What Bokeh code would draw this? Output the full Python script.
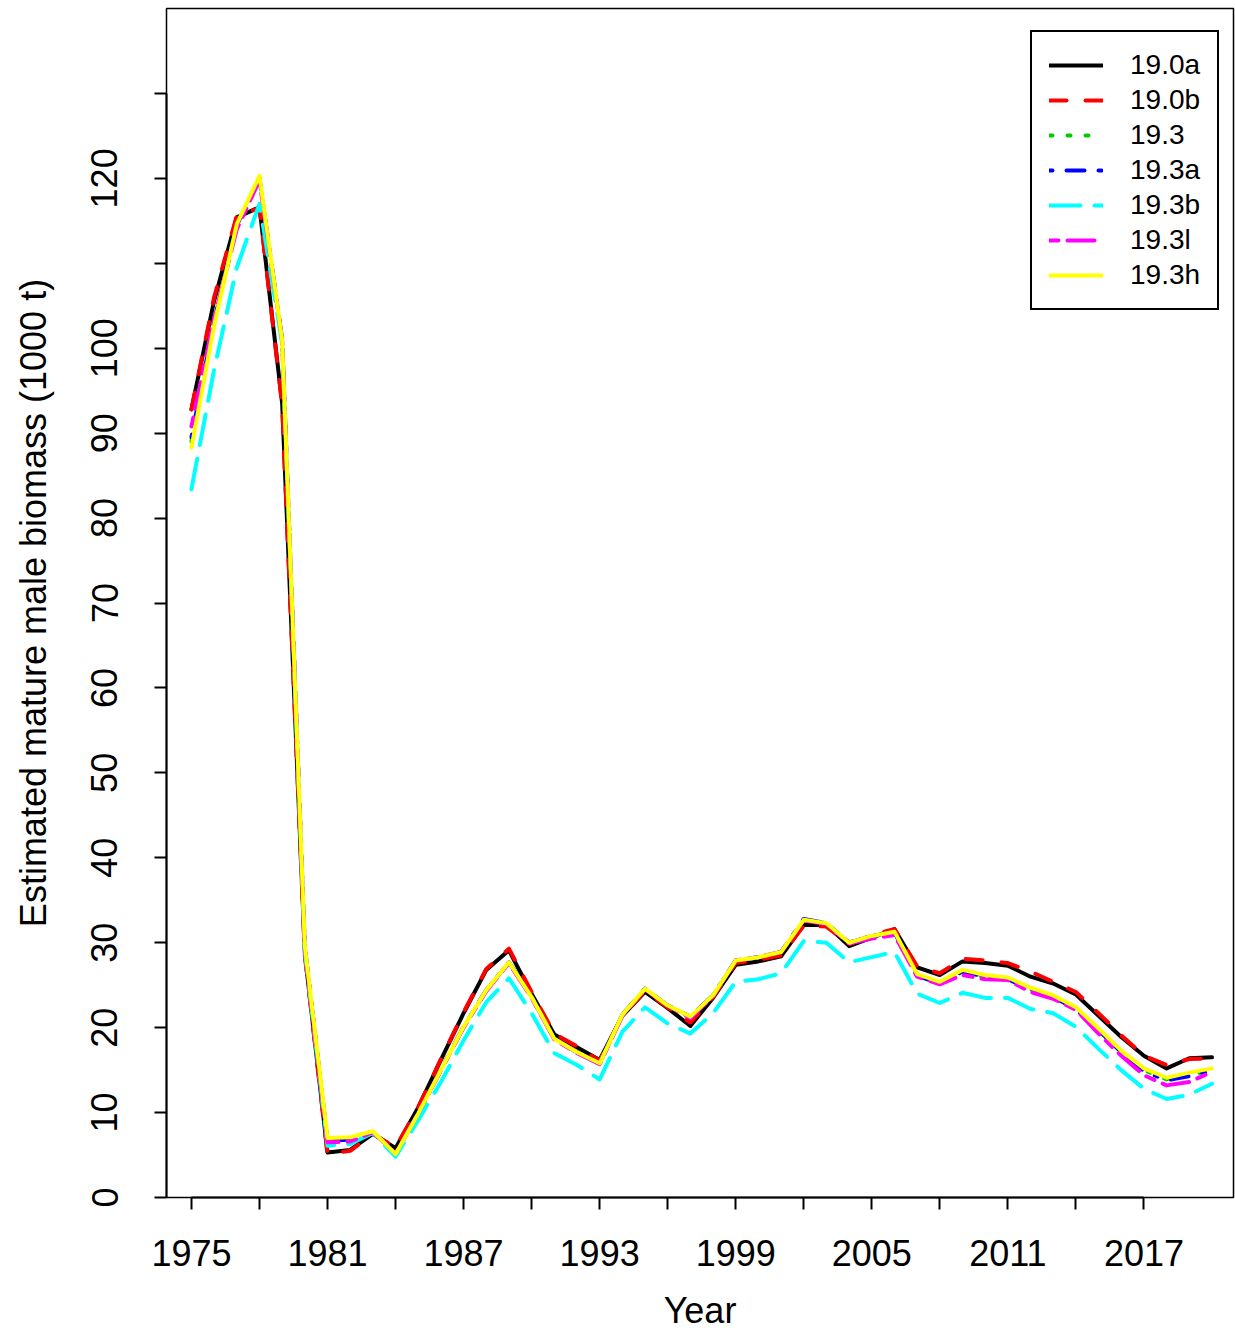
from bokeh.plotting import figure
from bokeh.models import Range1d, FixedTicker, Legend, LegendItem
from bokeh.embed import file_html
from bokeh.resources import INLINE

years = list(range(1975, 2021))

s_190a = [92.8, 105.6, 115.4, 116.6, 93.5, 28.7, 5.3, 5.6, 7.5, 5.8,
          10.6, 16.2, 21.7, 26.8, 29.1, 24.0, 19.2, 17.7, 16.2, 21.4,
          24.2, 22.3, 20.2, 23.5, 27.4, 27.8, 28.4, 32.1, 32.1, 29.6,
          30.6, 31.6, 27.1, 26.2, 27.8, 27.6, 27.3, 26.0, 25.2, 23.9,
          21.4, 18.9, 16.7, 15.2, 16.4, 16.5]
s_190b = [92.8, 106.0, 115.6, 116.5, 93.3, 28.5, 5.1, 5.5, 7.5, 5.9,
          10.6, 16.3, 21.8, 26.9, 29.3, 24.2, 19.3, 17.8, 16.1, 21.4,
          24.3, 22.4, 20.6, 23.6, 27.6, 28.0, 28.5, 32.0, 31.9, 29.8,
          30.9, 31.6, 27.2, 26.4, 28.1, 27.9, 27.6, 26.6, 25.4, 24.2,
          21.7, 19.1, 16.7, 15.6, 16.3, 16.4]
s_193 = [89.0, 103.0, 114.5, 120.0, 100.9, 29.5, 6.8, 6.9, 7.8, 5.1,
         9.9, 15.0, 20.1, 24.4, 27.7, 23.6, 18.7, 17.1, 15.8, 21.5,
         24.6, 22.6, 21.3, 23.8, 27.9, 28.3, 28.9, 32.7, 32.3, 30.0,
         30.8, 31.2, 26.2, 25.3, 26.6, 26.0, 25.8, 24.5, 23.6, 22.2,
         19.7, 17.1, 15.0, 13.9, 14.4, 15.0]
s_193a = [89.5, 103.2, 114.5, 120.0, 101.0, 29.5, 6.7, 6.8, 7.8, 5.1,
          9.9, 15.0, 20.1, 24.4, 27.7, 23.6, 18.7, 17.1, 15.8, 21.5,
          24.6, 22.6, 21.3, 23.8, 27.9, 28.3, 28.9, 32.8, 32.3, 30.0,
          30.8, 31.2, 26.1, 25.2, 26.6, 26.0, 25.7, 24.5, 23.6, 22.2,
          19.7, 17.1, 14.9, 13.8, 14.3, 14.9]
s_193b = [83.4, 97.5, 109.5, 117.0, 100.5, 29.0, 6.1, 6.3, 7.6, 4.8,
          9.1, 13.6, 18.5, 23.0, 25.8, 21.7, 17.0, 15.6, 13.9, 19.5,
          22.4, 20.5, 19.3, 21.7, 25.4, 25.7, 26.4, 30.2, 30.0, 27.7,
          28.3, 28.9, 24.0, 22.9, 24.1, 23.5, 23.5, 22.2, 21.7, 20.1,
          17.5, 15.0, 12.8, 11.6, 12.1, 13.4]
s_193l = [90.8, 103.5, 114.0, 119.8, 101.0, 29.3, 6.5, 6.6, 7.7, 5.2,
          9.9, 15.0, 20.0, 24.3, 27.6, 23.5, 18.6, 17.0, 15.7, 21.4,
          24.5, 22.6, 21.1, 23.7, 27.9, 28.3, 28.9, 32.6, 32.2, 29.9,
          30.5, 30.9, 26.0, 25.1, 26.2, 25.7, 25.6, 24.2, 23.4, 22.1,
          19.3, 16.7, 14.4, 13.2, 13.6, 14.8]
s_193h = [88.3, 102.7, 114.6, 120.3, 100.9, 29.6, 7.0, 7.1, 7.8, 5.1,
          9.9, 15.0, 20.1, 24.4, 27.7, 23.6, 18.7, 17.1, 15.8, 21.5,
          24.6, 22.6, 21.3, 23.8, 27.9, 28.3, 28.9, 32.7, 32.3, 30.0,
          30.8, 31.3, 26.3, 25.4, 26.8, 26.2, 25.9, 24.7, 23.8, 22.4,
          19.9, 17.3, 15.2, 14.1, 14.7, 15.2]

labels = ["19.0a", "19.0b", "19.3", "19.3a", "19.3b", "19.3l", "19.3h"]
series = [s_190a, s_190b, s_193, s_193a, s_193b, s_193l, s_193h]
colors = ["black", "red", "#00cd00", "blue", "cyan", "magenta", "yellow"]
dashes = ["solid", "17 19", "3 15", "3 14 18 14", "31 14", "9 9 27 9", "solid"]

x_ticks = list(range(1975, 2018, 3))
x_labels_shown = [1975, 1981, 1987, 1993, 1999, 2005, 2011, 2017]
y_ticks = list(range(0, 131, 10))
y_labels_hidden = [110, 130]

FONT = "Liberation Sans"

p = figure(width=1235, height=1334, output_backend="svg", toolbar_location=None,
           x_range=Range1d(1973.9, 2020.95), y_range=Range1d(0, 140),
           min_border_left=166, min_border_right=2, min_border_top=8,
           min_border_bottom=137)
p.grid.visible = False
p.background_fill_color = "white"
p.border_fill_color = "white"
p.outline_line_color = "black"
p.outline_line_width = 1.5

items = []
for lab, ys, c, d in zip(labels, series, colors, dashes):
    r = p.line(years, ys, line_color=c, line_width=4, line_dash=d,
               line_cap="round", line_join="round")
    items.append(LegendItem(label=lab, renderers=[r]))

leg = Legend(items=items, location=(864, 887), orientation="vertical",
             label_text_font=FONT, label_text_font_size="28px",
             label_text_color="black",
             glyph_width=54, glyph_height=28, label_height=28,
             label_standoff=27, spacing=3, padding=17,
             border_line_color="black", border_line_width=2.5,
             border_line_alpha=1.0,
             background_fill_color="white", background_fill_alpha=1.0)
p.add_layout(leg, "center")

xa = p.xaxis[0]
xa.ticker = FixedTicker(ticks=x_ticks)
xa.major_label_overrides = {t: (str(t) if t in x_labels_shown else "") for t in x_ticks}
xa.bounds = (1975, 2017)
xa.minor_tick_line_color = None
xa.major_tick_in = 0
xa.major_tick_out = 12
xa.major_tick_line_width = 2
xa.axis_line_width = 2
xa.major_label_text_font = FONT
xa.major_label_text_font_size = "36px"
xa.major_label_text_color = "black"
xa.major_label_standoff = 30
xa.axis_label = "Year"
xa.axis_label_text_font = FONT
xa.axis_label_text_font_size = "36px"
xa.axis_label_text_font_style = "normal"
xa.axis_label_text_color = "black"
xa.axis_label_standoff = 21

ya = p.yaxis[0]
ya.ticker = FixedTicker(ticks=y_ticks)
ya.major_label_overrides = {t: ("" if t in y_labels_hidden else str(t)) for t in y_ticks}
ya.bounds = (0, 130)
ya.minor_tick_line_color = None
ya.major_tick_in = 0
ya.major_tick_out = 12
ya.major_tick_line_width = 2
ya.axis_line_width = 2
ya.major_label_orientation = "vertical"
ya.major_label_text_font = FONT
ya.major_label_text_font_size = "36px"
ya.major_label_text_color = "black"
ya.major_label_standoff = 37
ya.axis_label = "Estimated mature male biomass (1000 t)"
ya.axis_label_text_font = FONT
ya.axis_label_text_font_size = "36px"
ya.axis_label_text_font_style = "normal"
ya.axis_label_text_color = "black"
ya.axis_label_standoff = 35

open("out.html", "w").write(file_html(p, INLINE))
